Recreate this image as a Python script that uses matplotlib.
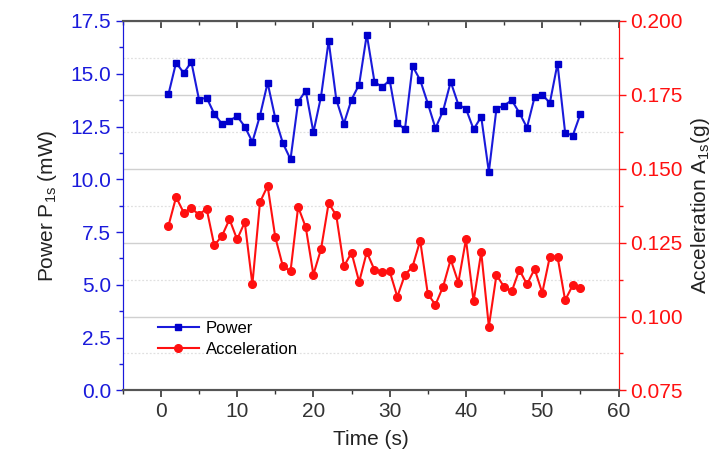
import matplotlib
matplotlib.use("Agg")
import matplotlib.pyplot as plt
from matplotlib.ticker import MultipleLocator

plt.rcParams['font.family'] = ['Liberation Sans', 'DejaVu Sans']

time = list(range(1, 56))
power = [14.03, 15.53, 15.03, 15.56, 13.78, 13.87, 13.11, 12.63, 12.78, 12.99,
         12.50, 11.77, 13.02, 14.57, 12.90, 11.71, 10.95, 13.67, 14.20, 12.23,
         13.92, 16.56, 13.78, 12.64, 13.78, 14.49, 16.86, 14.63, 14.36, 14.70,
         12.66, 12.37, 15.36, 14.70, 13.59, 12.42, 13.24, 14.62, 13.54, 13.34,
         12.37, 12.96, 10.35, 13.35, 13.49, 13.75, 13.15, 12.45, 13.90, 14.01,
         13.62, 15.48, 12.21, 12.07, 13.09]
accel = [0.1307, 0.1404, 0.1352, 0.1366, 0.1345, 0.1365, 0.1241, 0.1272, 0.1329, 0.1261,
         0.1319, 0.1109, 0.1387, 0.1442, 0.1269, 0.1170, 0.1153, 0.1371, 0.1302, 0.1142,
         0.1228, 0.1384, 0.1342, 0.1170, 0.1216, 0.1117, 0.1218, 0.1158, 0.1152, 0.1153,
         0.1067, 0.1141, 0.1169, 0.1257, 0.1076, 0.1040, 0.1101, 0.1193, 0.1115, 0.1261,
         0.1051, 0.1218, 0.0966, 0.1141, 0.1100, 0.1085, 0.1158, 0.1109, 0.1161, 0.1080,
         0.1203, 0.1203, 0.1055, 0.1106, 0.1095]

BLUE = '#1a1adb'
RED = '#ff1010'
GRAY = '#555555'

fig = plt.figure(figsize=(7.23, 4.76), dpi=100)
ax1 = fig.add_axes([0.1697, 0.1798, 0.8555 - 0.1697, 0.9559 - 0.1798])
ax2 = ax1.twinx()
ax1.set_zorder(ax2.get_zorder() + 1)
ax1.patch.set_visible(False)

l1, = ax1.plot(time, power, color=BLUE, marker='s', markersize=5, lw=1.5,
               markerfacecolor='#0000cc', markeredgecolor='#0000cc', label='Power')
l2, = ax2.plot(time, accel, color=RED, marker='o', markersize=5.5, lw=1.5,
               label='Acceleration')

ax1.set_xlim(-5, 60)
ax1.set_ylim(0, 17.5)
ax2.set_ylim(0.075, 0.200)

ax1.xaxis.set_major_locator(MultipleLocator(10))
ax1.xaxis.set_minor_locator(MultipleLocator(5))
ax1.yaxis.set_major_locator(MultipleLocator(2.5))
ax1.yaxis.set_minor_locator(MultipleLocator(1.25))
ax2.yaxis.set_major_locator(MultipleLocator(0.025))
ax2.yaxis.set_minor_locator(MultipleLocator(0.0125))
ax1.yaxis.set_major_formatter(plt.FormatStrFormatter('%.1f'))
ax2.yaxis.set_major_formatter(plt.FormatStrFormatter('%.3f'))

# grid from the right axis
ax2.grid(True, which='major', axis='y', color='#d0d0d0', lw=1.0, ls='-')
ax2.grid(True, which='minor', axis='y', color='#e0e0e0', lw=0.9, ls=(0, (1.5, 1.5)))

for ax in (ax1, ax2):
    ax.spines['top'].set_color(GRAY)
    ax.spines['bottom'].set_color(GRAY)
    ax.spines['top'].set_linewidth(1.5)
    ax.spines['bottom'].set_linewidth(1.5)
ax1.spines['left'].set_color(BLUE)
ax2.spines['left'].set_color(BLUE)
ax1.spines['right'].set_color(RED)
ax2.spines['right'].set_color(RED)

fs = 15
ax1.tick_params(axis='x', which='both', direction='out', colors='#333333',
                labelsize=fs, top=False, labeltop=False)
ax1.tick_params(axis='x', which='major', length=5, width=1.2)
ax1.tick_params(axis='x', which='minor', length=3, width=1.0)
# top ticks pointing inward, via the twin axis' x axis
ax2.xaxis.set_visible(True)
ax2.tick_params(axis='x', which='both', direction='in', colors='#333333',
                top=True, bottom=False, labeltop=False, labelbottom=False)
ax2.tick_params(axis='x', which='major', length=5, width=1.2)
ax2.tick_params(axis='x', which='minor', length=3, width=1.0)

ax1.tick_params(axis='y', which='both', direction='out', colors=BLUE, labelsize=fs)
ax1.tick_params(axis='y', which='major', length=5, width=1.0)
ax1.tick_params(axis='y', which='minor', length=3, width=1.0)
ax2.tick_params(axis='y', which='both', direction='out', colors=RED, labelsize=fs)
ax2.tick_params(axis='y', which='major', length=5, width=1.0)
ax2.tick_params(axis='y', which='minor', length=3, width=1.0)

ax1.set_xlabel('Time (s)', fontsize=fs, color='#222222', labelpad=6)
ax1.set_ylabel('Power P$_{\\mathregular{1s}}$ (mW)', fontsize=fs, color='#222222', labelpad=8)
ax2.set_ylabel('Acceleration A$_{\\mathregular{1s}}$(g)', fontsize=fs, color='#222222', labelpad=4)

ax1.legend(handles=[l1, l2], loc='lower left', bbox_to_anchor=(0.04, 0.05),
           frameon=False, fontsize=12, handlelength=2.5, handletextpad=0.4,
           labelspacing=0.35)

fig.savefig('out.png', dpi=100)
